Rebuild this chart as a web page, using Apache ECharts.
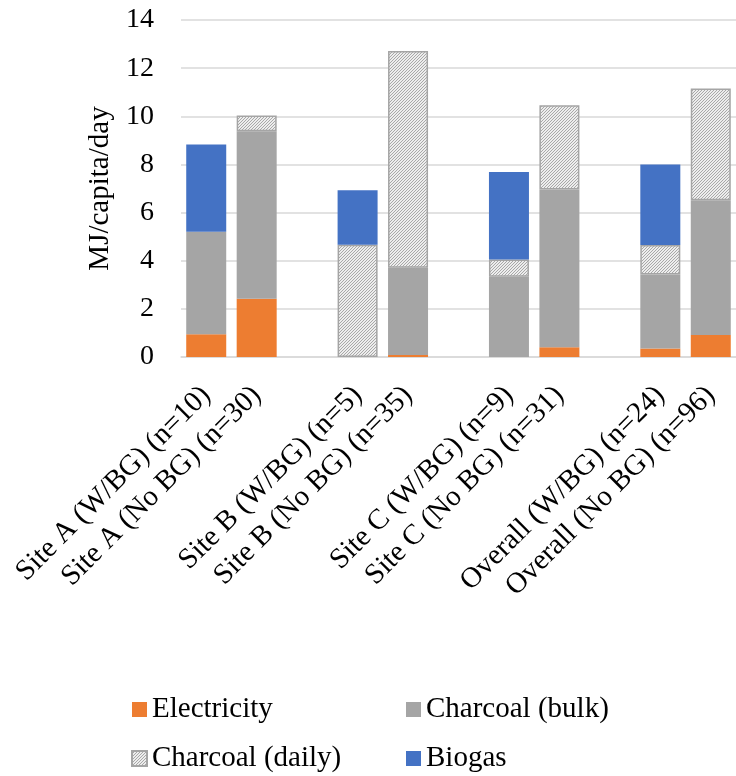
<!DOCTYPE html>
<html>
<head>
<meta charset="utf-8">
<script src="https://cdn.jsdelivr.net/npm/echarts@6/dist/echarts.min.js"></script>
<style>
html,body{margin:0;padding:0;background:#fff;}
#chart{width:736px;height:776px;}
</style>
</head>
<body>
<div id="chart"></div>
<script>
const categories = ['Site A (W/BG) (n=10)', 'Site A (No BG) (n=30)', ' ',
  'Site B (W/BG) (n=5)', 'Site B (No BG) (n=35)', '  ',
  'Site C (W/BG) (n=9)', 'Site C (No BG) (n=31)', '   ',
  'Overall (W/BG) (n=24)', 'Overall (No BG) (n=96)'];
const electricity = [0.94, 2.42, null, null, 0.08, null, null, 0.40, null, 0.35, 0.91];
const charcoalBulk = [4.26, 6.96, null, null, 3.63, null, 3.33, 6.56, null, 3.08, 5.60];
const charcoalDaily = [null, 0.65, null, 4.66, 9.00, null, 0.72, 3.50, null, 1.22, 4.64];
const biogas = [3.63, null, null, 2.27, null, null, 3.64, null, null, 3.35, null];
const yTicks = ['0', '2', '4', '6', '8', '10', '12', '14'];

const FONT = 'Liberation Serif';

function hatch() {
  const c = document.createElement('canvas');
  c.width = 3; c.height = 3;
  const g = c.getContext('2d');
  g.fillStyle = '#ededed';
  g.fillRect(0, 0, 3, 3);
  g.fillStyle = '#a8a8a8';
  g.fillRect(2, 0, 1, 1);
  g.fillRect(1, 1, 1, 1);
  g.fillRect(0, 2, 1, 1);
  return c;
}

const chart = echarts.init(document.getElementById('chart'), null, {renderer: 'canvas'});
const base = {type: 'bar', stack: 'total', barWidth: 40};
chart.setOption({
  animation: false,
  grid: {left: 181, right: 0, top: 20, bottom: 419, containLabel: false},
  legend: {
    left: 126, top: 690, width: 570,
    itemWidth: 15, itemHeight: 15, itemGap: 20,
    icon: 'rect',
    textStyle: {fontFamily: FONT, fontSize: 29, color: '#000', width: 234, lineHeight: 24},
    data: ['Electricity', 'Charcoal (bulk)', 'Charcoal (daily)', 'Biogas']
  },
  xAxis: {
    type: 'category', data: categories,
    axisLine: {lineStyle: {color: '#d9d9d9', width: 1.5}},
    axisTick: {show: false},
    axisLabel: {rotate: 45, interval: 0, margin: 34, fontFamily: FONT, fontSize: 29, color: '#000'}
  },
  yAxis: {
    type: 'value', min: 0, max: 14, interval: 2,
    name: 'MJ/capita/day', nameLocation: 'middle', nameGap: 65, nameRotate: 90,
    nameTextStyle: {fontFamily: FONT, fontSize: 29, color: '#000'},
    axisLine: {show: false}, axisTick: {show: false},
    splitLine: {lineStyle: {color: '#d9d9d9', width: 1.5}},
    axisLabel: {margin: 27, fontFamily: FONT, fontSize: 28, color: '#000',
      formatter: v => yTicks[Math.round(v / 2)]}
  },
  series: [
    Object.assign({}, base, {name: 'Electricity', data: electricity, itemStyle: {color: '#ED7D31'}}),
    Object.assign({}, base, {name: 'Charcoal (bulk)', data: charcoalBulk, itemStyle: {color: '#A5A5A5'}}),
    Object.assign({}, base, {name: 'Charcoal (daily)', data: charcoalDaily,
      itemStyle: {color: {image: hatch(), repeat: 'repeat'}, borderColor: '#a5a5a5', borderWidth: 1.5}}),
    Object.assign({}, base, {name: 'Biogas', data: biogas, itemStyle: {color: '#4472C4'}})
  ]
});
</script>
</body>
</html>
